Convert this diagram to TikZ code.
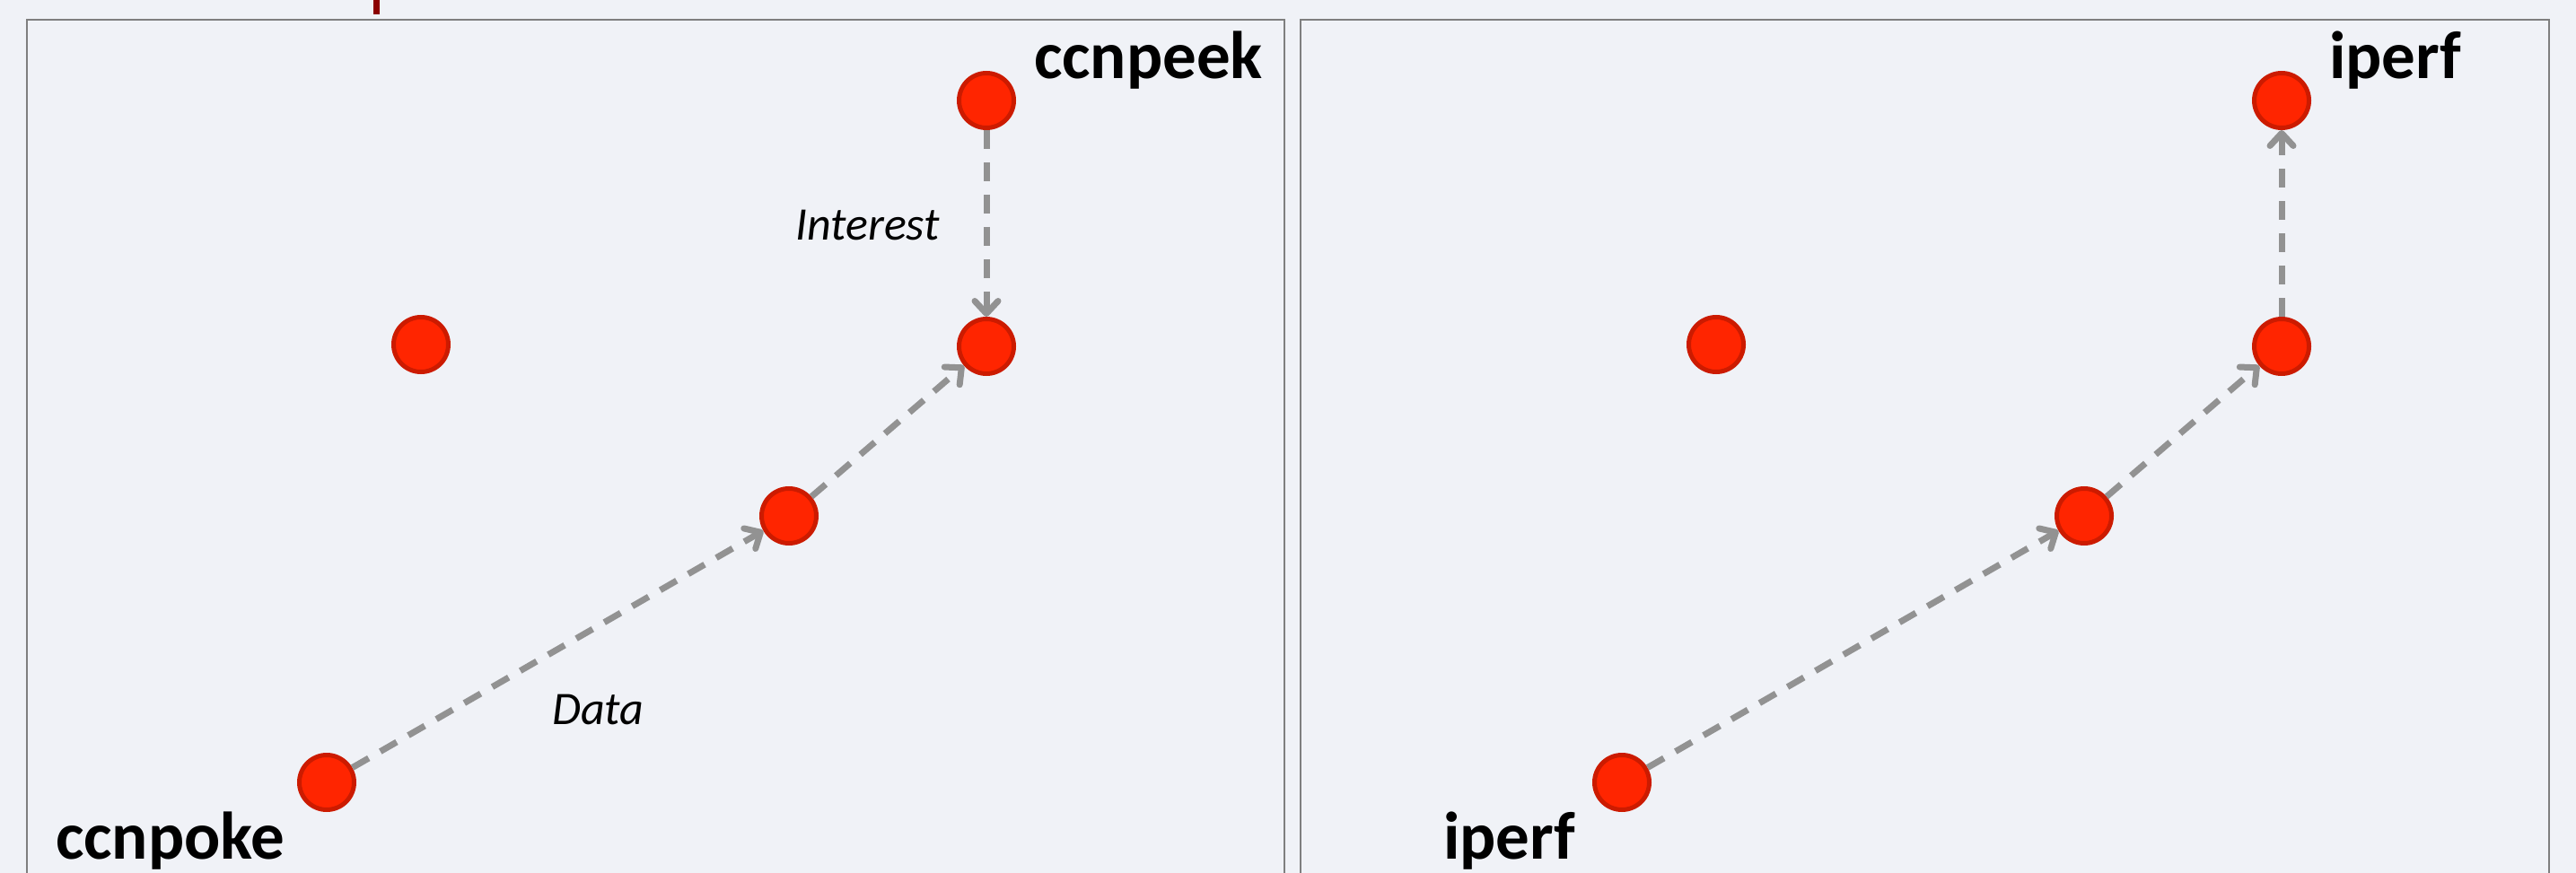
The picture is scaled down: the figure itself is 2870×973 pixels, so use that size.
\documentclass[tikz,border=0pt]{standalone}
\usepackage{fontspec}
\setmainfont{Carlito}
\usetikzlibrary{arrows.meta}
\definecolor{bg}{HTML}{F0F2F7}
\definecolor{nodefill}{HTML}{FF2500}
\definecolor{nodeedge}{HTML}{CC1B00}
\definecolor{conn}{HTML}{929292}
\definecolor{framecol}{HTML}{7F7F7F}
\definecolor{markred}{HTML}{8B0000}
\tikzset{
  router/.style={circle, fill=nodefill, draw=nodeedge, line width=5pt, minimum size=61pt, inner sep=0pt},
  flow/.style={draw=conn, line width=7pt, dash pattern=on 21pt off 15pt, -{Straight Barb[length=14pt,width=26pt,round]}},
  host/.style={font=\fontsize{75}{90}\selectfont\bfseries, anchor=base west, inner sep=0pt},
  msg/.style={font=\fontsize{52}{62}\selectfont\itshape, anchor=base west, inner sep=0pt},
  panel/.style={draw=framecol, line width=2.5pt},
}
\begin{document}
\begin{tikzpicture}[x=1pt,y=-1pt]
\useasboundingbox (0,0) rectangle (2870,973);
\fill[bg] (0,0) rectangle (2870,973);
\begin{scope}
  \clip (0,0) rectangle (2870,973);
  \draw[panel] (30,22) rectangle (1431,1010);
  \draw[panel] (1449,22) rectangle (2840,1010);
\end{scope}
\fill[markred] (416,0) rectangle (423,16);

% left panel
\node[router] (lpeek) at (1099,112) {};
\node[router] (lmid)  at (1099,386) {};
\node[router] (liso)  at (469,384) {};
\node[router] (lrel)  at (879,575) {};
\node[router] (lpoke) at (364,872) {};
\draw[flow] (lpeek) -- (lmid);
\draw[flow] (lpoke) -- (lrel);
\draw[flow] (lrel) -- (lmid);
\node[host] (lpeeklbl) at (1152,88) {ccnpeek};
\node[host] (lpokelbl) at (62,957) {ccnpoke};
\node[msg] (intlbl) at (886,268) {Interest};
\node[msg] (datalbl) at (615,807) {Data};

% right panel
\node[router] (rtop) at (2542,112) {};
\node[router] (rmid) at (2542,386) {};
\node[router] (riso) at (1912,384) {};
\node[router] (rrel) at (2322,575) {};
\node[router] (rbot) at (1807,872) {};
\draw[flow] (rbot) -- (rrel);
\draw[flow] (rrel) -- (rmid);
\draw[flow] (rmid) -- (rtop);
\node[host] (rtoplbl) at (2595,88) {iperf};
\node[host] (rbotlbl) at (1608,957) {iperf};
\end{tikzpicture}
\end{document}
